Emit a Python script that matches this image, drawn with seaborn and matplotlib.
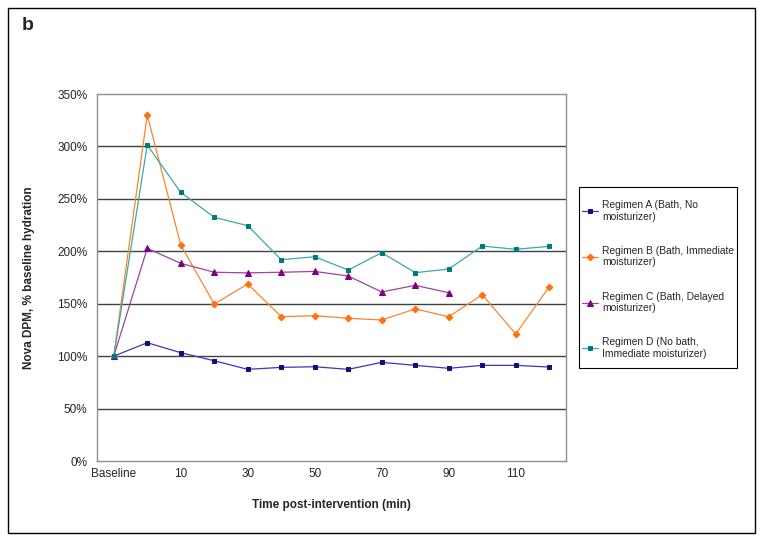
import numpy as np
import pandas as pd
import seaborn as sns
import matplotlib.pyplot as plt
from matplotlib.patches import Rectangle

# Time points (Baseline, then minutes post-intervention)
times = ["Baseline", "0", "10", "20", "30", "40", "50", "60", "70", "80", "90", "100", "110", "120"]
tick_labels = ["Baseline", "", "10", "", "30", "", "50", "", "70", "", "90", "", "110", ""]

# Nova DPM values, % of baseline hydration
regimen_a = [100, 112.8, 103.3, 95.6, 87.4, 89.3, 89.9, 87.4, 94.1, 91.2, 88.4, 91.2, 91.2, 89.6]
regimen_b = [100, 330, 206, 149.7, 168.8, 137.6, 138.6, 136.1, 134.5, 145, 137.6, 158.6, 121.1, 166.2]
regimen_c = [100, 202.8, 188.5, 180, 179.4, 180, 180.8, 176.4, 161.2, 167.5, 160.5, np.nan, np.nan, np.nan]
regimen_d = [100, 301.4, 256.2, 232.4, 224.4, 192, 194.8, 182.1, 198.7, 179.6, 183.1, 205, 201.9, 204.7]

names = ["Regimen A (Bath, No\nmoisturizer)",
         "Regimen B (Bath, Immediate\nmoisturizer)",
         "Regimen C (Bath, Delayed\nmoisturizer)",
         "Regimen D (No bath,\nImmediate moisturizer)"]
line_colors = ["#3a3ab8", "#f7862b", "#a040a8", "#40a8a4"]
marker_colors = ["#10107a", "#ff7010", "#800080", "#007a78"]
markers = ["s", "D", "^", "s"]
msizes = [3.0, 3.4, 4.6, 3.4]

sns.set_style("white")
plt.rcParams['font.family'] = ['Liberation Sans', 'DejaVu Sans']

fig = plt.figure(figsize=(7.62, 5.41), dpi=100)
ax = fig.add_axes([97 / 762, 80 / 541, 469 / 762, 367 / 541])

x = np.arange(len(times))
for vals, name, lc, mc, mk, ms in zip([regimen_a, regimen_b, regimen_c, regimen_d],
                                      names, line_colors, marker_colors, markers, msizes):
    df = pd.DataFrame({"x": x, "y": vals}).dropna()
    sns.lineplot(data=df, x="x", y="y", ax=ax, color=lc, linewidth=0.9,
                 marker=mk, markersize=ms, markerfacecolor=mc, markeredgecolor=mc,
                 label=name)

ax.set_xlim(-0.5, len(times) - 0.5)
ax.set_ylim(0, 350)
ax.set_yticks(np.arange(0, 351, 50))
ax.set_yticklabels([f"{v}%" for v in range(0, 351, 50)])
ax.set_xticks(x)
ax.set_xticklabels(tick_labels)
ax.set_xticks(np.arange(-0.5, len(times)), minor=True)
ax.tick_params(axis="x", which="major", length=0, labelsize=8.5, pad=5)
ax.tick_params(axis="x", which="minor", length=4, color="#808080", direction="out")
ax.tick_params(axis="y", length=4, color="#808080", direction="out", labelsize=8.5, pad=3)

# gridlines like the original
for v in range(50, 301, 50):
    ax.axhline(v, color="#404040", linewidth=1, zorder=0)
for s in ax.spines.values():
    s.set_color("#909090")
    s.set_linewidth(1)

ax.set_xlabel("Time post-intervention (min)", fontsize=8.5, fontweight="bold", labelpad=14)
ax.set_ylabel("Nova DPM, % baseline hydration", fontsize=8.5, fontweight="bold", labelpad=16)

# legend without its own frame, box drawn separately
ax.get_legend().remove()
handles, labels = ax.get_legend_handles_labels()
fig.legend(handles, labels, loc="upper left", bbox_to_anchor=(582 / 762, 1 - 200 / 541),
           borderaxespad=0, borderpad=0, fontsize=7.4, frameon=False,
           labelspacing=2.35, handlelength=1.6, handletextpad=0.35)
fig.add_artist(Rectangle((579 / 762, 1 - 368 / 541), 158 / 762, 181 / 541,
                         transform=fig.transFigure, fill=False, edgecolor="black", linewidth=0.8))

fig.text(22 / 762, 1 - 26 / 541, "b", fontsize=14, fontweight="bold", va="center")
fig.add_artist(Rectangle((8 / 762, 8 / 541), 747 / 762, 525 / 541, transform=fig.transFigure,
                         fill=False, edgecolor="black", linewidth=1))

fig.savefig("out.png", dpi=100)
